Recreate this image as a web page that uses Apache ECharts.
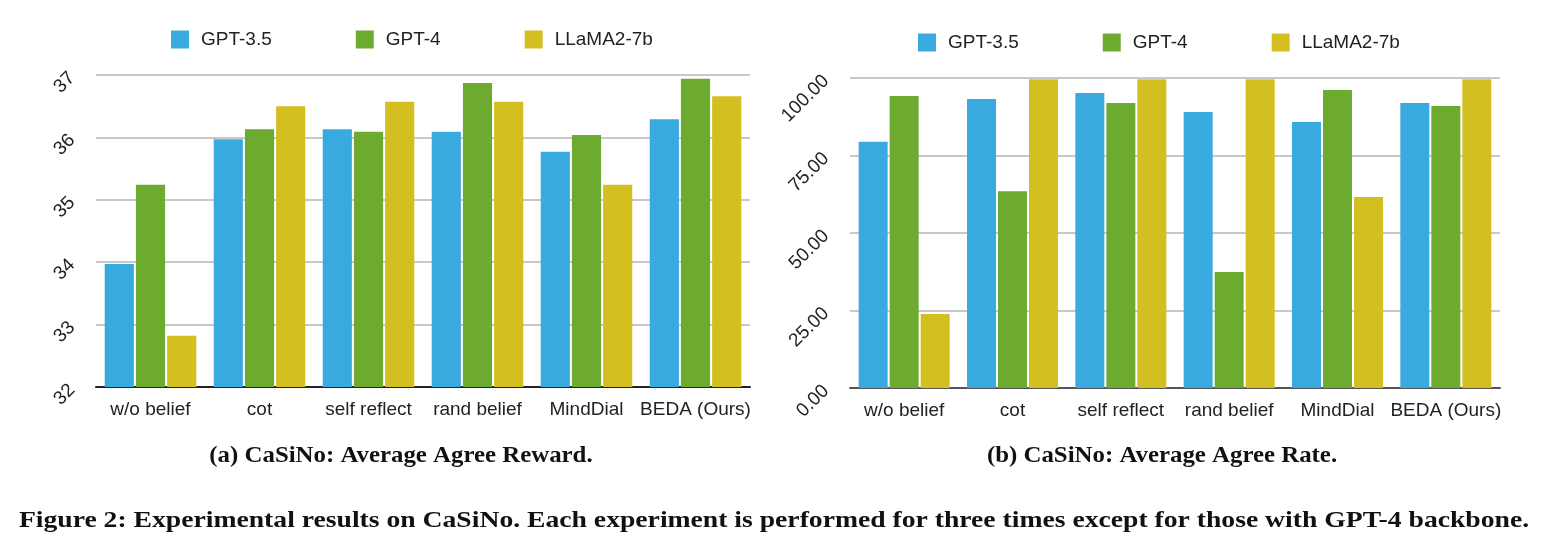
<!DOCTYPE html>
<html><head><meta charset="utf-8">
<script src="https://cdn.jsdelivr.net/npm/echarts@6/dist/echarts.min.js"></script>
<style>html,body{margin:0;padding:0;background:#fff}#c{width:1544px;height:553px}</style>
</head><body><div id="c"></div>
<script>
const categories = ['w/o belief', 'cot', 'self reflect', 'rand belief', 'MindDial', 'BEDA (Ours)'];
const seriesNames = ['GPT-3.5', 'GPT-4', 'LLaMA2-7b'];
const rewardGPT35 = [33.97, 35.97, 36.13, 36.09, 35.77, 36.29];
const rewardGPT4  = [35.24, 36.13, 36.09, 36.87, 36.04, 36.94];
const rewardLLaMA = [32.82, 36.50, 36.57, 36.57, 35.24, 36.66];
const rateGPT35 = [79.4, 93.2, 95.2, 89.0, 85.8, 91.9];
const rateGPT4  = [94.2, 63.5, 91.9, 37.4, 96.1, 91.0];
const rateLLaMA = [23.9, 99.6, 99.6, 99.6, 61.6, 99.6];
const rewardAxis = {min: 32, max: 37, interval: 1};
const rateAxis = {min: 0, max: 100, interval: 25};
const captionA = '(a) CaSiNo: Average Agree Reward.';
const captionB = '(b) CaSiNo: Average Agree Rate.';
const figCaption = 'Figure 2: Experimental results on CaSiNo. Each experiment is performed for three times except for those with GPT-4 backbone.';

const colors = ['#38aadf', '#6cab30', '#d3bf1f'];
const sans = '"Liberation Sans", Arial, sans-serif';
const serif = '"Liberation Serif", "Times New Roman", serif';

const chart = echarts.init(document.getElementById('c'), null, {renderer: 'canvas'});

function legendCfg(left, top) {
  return {
    left: left, top: top, itemWidth: 18, itemHeight: 18, itemGap: 84,
    icon: 'rect', data: seriesNames,
    textStyle: {fontFamily: sans, fontSize: 19, color: '#222', padding: [0, 0, 0, 7]}
  };
}
function xAxisCfg(gi, lineColor) {
  return {
    type: 'category', gridIndex: gi, data: categories,
    axisLine: {lineStyle: {color: lineColor, width: 2}},
    axisTick: {show: false},
    axisLabel: {fontFamily: sans, fontSize: 19, color: '#222', margin: 13, interval: 0}
  };
}
function yAxisCfg(gi, ax, fmt) {
  return {
    type: 'value', gridIndex: gi, min: ax.min, max: ax.max, interval: ax.interval,
    axisLine: {show: false}, axisTick: {show: false},
    splitLine: {lineStyle: {color: '#c8c8c8', width: 2}},
    axisLabel: {fontFamily: sans, fontSize: 19, color: '#222', rotate: 45, margin: 24, formatter: fmt}
  };
}
function barSeries(name, data, gi, ci) {
  return {
    name: name, type: 'bar', xAxisIndex: gi, yAxisIndex: gi, data: data,
    barGap: '7%', barCategoryGap: '16%',
    itemStyle: {color: colors[ci]}
  };
}
function caption(text, x, y, sx) {
  return {type: 'text', x: x, y: y, scaleX: sx,
    style: {text: text, font: 'bold 24px ' + serif, fill: '#111', x: 0, y: 0, textAlign: 'center', textVerticalAlign: 'middle'}};
}

chart.setOption({
  animation: false,
  color: colors,
  legend: [legendCfg(166, 25), legendCfg(913, 28)],
  grid: [
    {left: 96, right: 794, top: 75, bottom: 166},
    {left: 850, right: 44, top: 78, bottom: 165}
  ],
  xAxis: [xAxisCfg(0, '#222'), xAxisCfg(1, '#555')],
  yAxis: [
    yAxisCfg(0, rewardAxis, v => String(v)),
    yAxisCfg(1, rateAxis, v => v.toFixed(2))
  ],
  series: [
    barSeries(seriesNames[0], rewardGPT35, 0, 0),
    barSeries(seriesNames[1], rewardGPT4, 0, 1),
    barSeries(seriesNames[2], rewardLLaMA, 0, 2),
    barSeries(seriesNames[0], rateGPT35, 1, 0),
    barSeries(seriesNames[1], rateGPT4, 1, 1),
    barSeries(seriesNames[2], rateLLaMA, 1, 2)
  ],
  graphic: [
    caption(captionA, 401, 456, 1.035),
    caption(captionB, 1162, 456, 1.035),
    caption(figCaption, 774, 521, 1.152)
  ]
});
</script>
</body></html>
